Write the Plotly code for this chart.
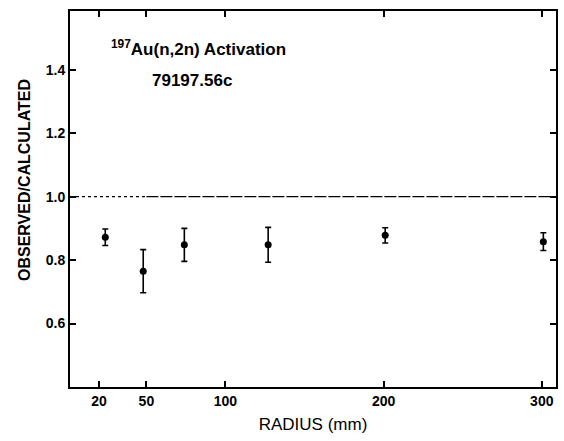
import plotly.graph_objects as go

radius_mm = [24, 48, 74, 127, 201, 301]
obs_calc = [0.872, 0.765, 0.848, 0.848, 0.878, 0.858]
err = [0.026, 0.068, 0.052, 0.055, 0.024, 0.028]

x_ticks = [20, 50, 100, 200, 300]
y_ticks = [0.6, 0.8, 1.0, 1.2, 1.4]
y_ticklabels = ["0.6", "0.8", "1.0", "1.2", "1.4"]
ref_level = 1.0
x_range = [1.7, 309]
y_range = [0.4, 1.585]

fig = go.Figure()

# reference line at 1.0: dotted left part, dashed rest
fig.add_trace(go.Scatter(x=[x_range[0], 50], y=[ref_level, ref_level], mode="lines",
                         line=dict(color="black", width=1.3, dash="dot"),
                         hoverinfo="skip", showlegend=False))
fig.add_trace(go.Scatter(x=[50, x_range[1]], y=[ref_level, ref_level], mode="lines",
                         line=dict(color="black", width=1.4, dash="12px,2px"),
                         hoverinfo="skip", showlegend=False))

fig.add_trace(go.Scatter(
    x=radius_mm, y=obs_calc, mode="markers",
    marker=dict(color="black", size=7, symbol="circle"),
    error_y=dict(type="data", array=err, visible=True, color="black",
                 thickness=1.6, width=3),
    showlegend=False))

font_family = "Liberation Sans, Arial, sans-serif"

fig.add_annotation(xref="paper", yref="paper", x=0.08, y=0.902,
                   xanchor="left", yanchor="middle", showarrow=False,
                   text="<sup>197</sup>Au(n,2n) Activation",
                   font=dict(family=font_family, size=17, color="black", weight="bold"))
fig.add_annotation(xref="paper", yref="paper", x=0.165, y=0.816,
                   xanchor="left", yanchor="middle", showarrow=False,
                   text="79197.56c",
                   font=dict(family=font_family, size=17, color="black", weight="bold"))
# y-axis title (placed to match reference position)
fig.add_annotation(xref="paper", yref="paper", x=-0.095, y=0.55,
                   xanchor="center", yanchor="middle", showarrow=False,
                   textangle=-90, text="OBSERVED/CALCULATED",
                   font=dict(family=font_family, size=16, color="black", weight="bold"))

fig.update_xaxes(range=x_range, tickvals=x_ticks, ticktext=[str(v) for v in x_ticks],
                 ticks="inside", ticklen=6, tickwidth=2, tickcolor="black",
                 showline=True, linecolor="black", linewidth=2, mirror="ticks",
                 showgrid=False, zeroline=False,
                 tickfont=dict(family=font_family, size=14, color="black", weight="bold"),
                 title=dict(text="RADIUS (mm)", standoff=10,
                            font=dict(family=font_family, size=17, color="black")))
fig.update_yaxes(range=y_range, tickvals=y_ticks, ticktext=y_ticklabels,
                 ticks="inside", ticklen=6, tickwidth=2, tickcolor="black",
                 showline=True, linecolor="black", linewidth=2, mirror="ticks",
                 showgrid=False, zeroline=False,
                 tickfont=dict(family=font_family, size=14, color="black", weight="bold"))

fig.update_layout(width=564, height=441, margin=dict(l=70, r=6, t=11, b=54),
                  paper_bgcolor="white", plot_bgcolor="white")

fig.write_html("out.html")
